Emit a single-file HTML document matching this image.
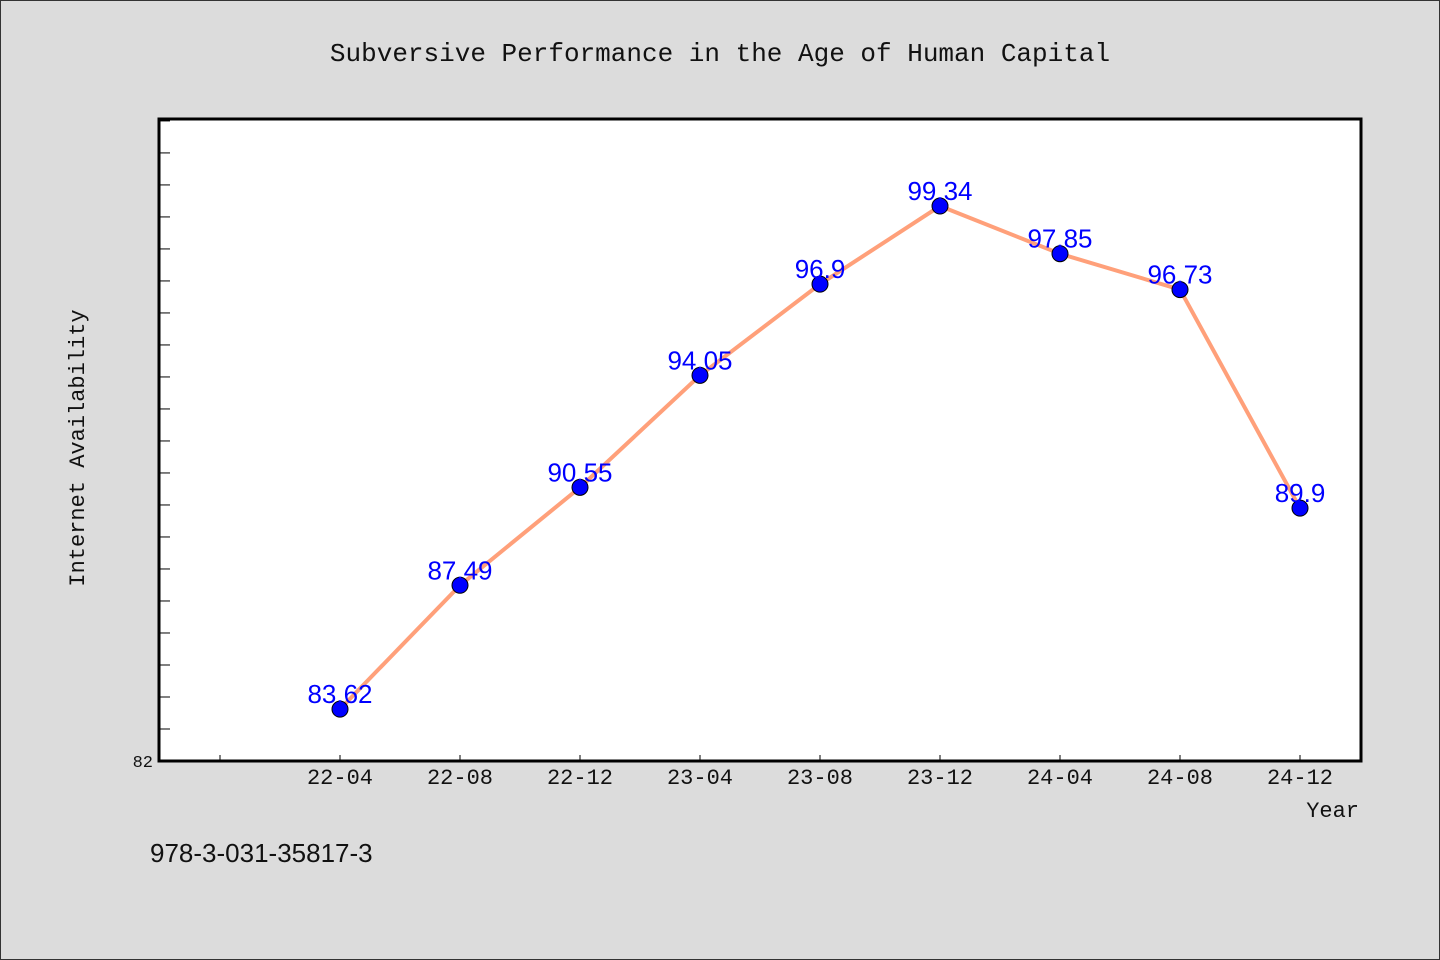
<!DOCTYPE html>
<html><head><meta charset="utf-8"><style>
body{margin:0;background:#dcdcdc;}
svg{display:block;font-family:"Liberation Mono","WenQuanYi Zen Hei",monospace;}
</style></head><body>
<svg id="chart" width="1440" height="960">
<rect x="0.5" y="0.5" width="1439" height="959" fill="#dcdcdc" stroke="#333"/>
<text x="720" y="61" text-anchor="middle" font-size="26" fill="#111">Subversive Performance in the Age of Human Capital</text>
<rect x="159" y="119" width="1202" height="642" fill="#fff" stroke="#000" stroke-width="3"/>
<g id="yticks"></g><g id="xticks"></g><g id="series"></g>
<text transform="translate(84,448) rotate(-90)" text-anchor="middle" font-size="22" fill="#111">Internet Availability</text>
<text x="1359" y="817" text-anchor="end" font-size="22" fill="#111">Year</text>
<text x="150" y="862" font-size="26" fill="#111" font-family="Liberation Sans, sans-serif">978-3-031-35817-3</text>
</svg>
<script>
const categories=["22-04","22-08","22-12","23-04","23-08","23-12","24-04","24-08","24-12"];
const values=[83.62,87.49,90.55,94.05,96.9,99.34,97.85,96.73,89.9];
const valueLabels=["83.62","87.49","90.55","94.05","96.9","99.34","97.85","96.73","89.9"];
const yMin=82, yMax=102.06;
const NS="http://www.w3.org/2000/svg";
const X=i=>340+i*120;
const Y=v=>761-(v-yMin)/(yMax-yMin)*642;
function mk(tag,attrs,parent,text){const e=document.createElementNS(NS,tag);for(const k in attrs)e.setAttribute(k,attrs[k]);if(text!==undefined)e.textContent=text;parent.appendChild(e);return e;}
const yt=document.getElementById('yticks');
for(let v=yMin+1;v<yMax;v++){const t=mk('line',{x1:159,x2:170,y1:Y(v),y2:Y(v),stroke:'#000','stroke-width':1},yt);

}
const yl=mk('text',{x:153,y:767,'text-anchor':'end','font-size':17,fill:'#111'},yt,String(yMin));


const xt=document.getElementById('xticks');
for(let i=-1;i<categories.length;i++){const t=mk('line',{x1:X(i),x2:X(i),y1:761,y2:755,stroke:'#000','stroke-width':1},xt);


if(i>=0){const l=mk('text',{x:X(i),y:784,'text-anchor':'middle','font-size':22,fill:'#111'},xt,categories[i]);

}}
const s=document.getElementById('series');
const line=mk('polyline',{points:values.map((v,i)=>X(i)+','+Y(v)).join(' '),fill:'none',stroke:'#ffa07a','stroke-width':4},s);


values.forEach((v,i)=>{const c=mk('circle',{cx:X(i),cy:Y(v),r:8,fill:'#0000ff',stroke:'#000','stroke-width':1},s);


const l=mk('text',{x:X(i),y:Y(v)-6,'text-anchor':'middle','font-size':26,fill:'#0000ff','font-family':'Liberation Sans, sans-serif'},s,valueLabels[i]);

});
</script>
</body></html>
